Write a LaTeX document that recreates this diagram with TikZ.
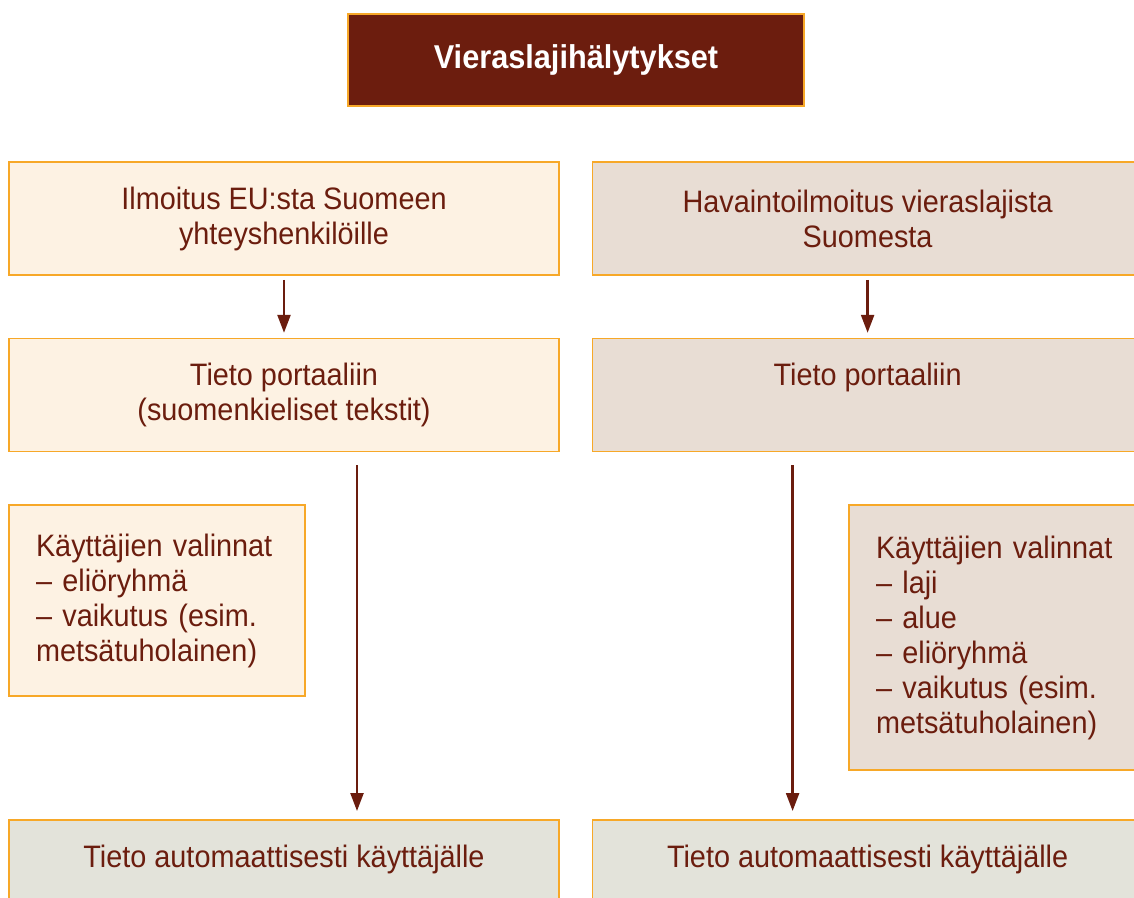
\documentclass[tikz,border=0pt]{standalone}
\usepackage{fontspec}
\setmainfont{Liberation Sans}[FakeStretch=0.93]
\usepackage{tikz}
\usetikzlibrary{positioning, arrows.meta}
\definecolor{textBrown}{RGB}{107, 29, 14}
\definecolor{frameOrange}{RGB}{247, 168, 40}
\definecolor{titleFill}{RGB}{108, 29, 14}
\definecolor{euFill}{RGB}{253, 242, 227}
\definecolor{obsFill}{RGB}{232, 221, 212}
\definecolor{userFill}{RGB}{227, 227, 218}
\tikzset{
    flow_box/.style={
        rectangle,
        draw=frameOrange,
        line width=0.8pt,
        text=textBrown,
        font=\fontsize{15.5}{17.5}\selectfont,
        align=center,
        inner sep=0pt,
        minimum width=275pt,
        minimum height=56.5pt
    },
    top_text/.style={
        text depth=20.5pt
    },
    title_box/.style={
        flow_box,
        fill=titleFill,
        text=white,
        font=\fontsize{16.5}{20}\selectfont\bfseries,
        minimum width=228pt,
        minimum height=46pt
    },
    choice_box/.style={
        flow_box,
        align=left,
        text width=121pt,
        inner xsep=13.5pt,
        minimum width=148pt
    },
    flow_edge/.style={
        -{Triangle[length=9pt,width=6.5pt]},
        line width=1.2pt,
        draw=textBrown
    }
}

\begin{document}
\begin{tikzpicture}[x=0.5pt, y=-0.5pt]
    \useasboundingbox (0,0) rectangle (1134,898);
    \clip (0,0) rectangle (1134,898);

    \node[title_box] (alert_title) at (576,60) {Vieraslajihälytykset};

    % EU:n kautta tulevat ilmoitukset
    \node[flow_box, fill=euFill] (eu_notice) at (284,218.5)
        {Ilmoitus EU:sta Suomeen\\yhteyshenkilöille};
    \node[flow_box, fill=euFill, below=31pt of eu_notice] (eu_portal)
        {Tieto portaaliin\\(suomenkieliset tekstit)};
    \node[choice_box, fill=euFill, minimum height=95.5pt] (eu_choices) at (157,600.5)
        {Käyttäjien valinnat\\– eliöryhmä\\– vaikutus (esim.\\metsätuholainen)};
    \node[flow_box, top_text, fill=userFill, below=183.5pt of eu_portal] (eu_user)
        {Tieto automaattisesti käyttäjälle};

    % havainnot Suomesta
    \node[flow_box, fill=obsFill, right=16pt of eu_notice] (obs_notice)
        {Havaintoilmoitus vieraslajista\\Suomesta};
    \node[flow_box, top_text, fill=obsFill, below=31pt of obs_notice] (obs_portal)
        {Tieto portaaliin};
    \node[choice_box, fill=obsFill, minimum height=132.5pt] (obs_choices) at (997,637.5)
        {Käyttäjien valinnat\\– laji\\– alue\\– eliöryhmä\\– vaikutus (esim.\\metsätuholainen)};
    \node[flow_box, top_text, fill=userFill, below=183.5pt of obs_portal] (obs_user)
        {Tieto automaattisesti käyttäjälle};

    \draw[flow_edge, shorten <=2pt, shorten >=2.5pt] (eu_notice) -- (eu_portal);
    \draw[flow_edge, shorten <=2pt, shorten >=2.5pt] (obs_notice) -- (obs_portal);
    \draw[flow_edge, shorten <=6.3pt, shorten >=4.2pt]
        ([xshift=36.5pt]eu_portal.south) -- ([xshift=36.5pt]eu_user.north);
    \draw[flow_edge, shorten <=6.3pt, shorten >=4.2pt]
        ([xshift=-37.5pt]obs_portal.south) -- ([xshift=-37.5pt]obs_user.north);
\end{tikzpicture}
\end{document}
